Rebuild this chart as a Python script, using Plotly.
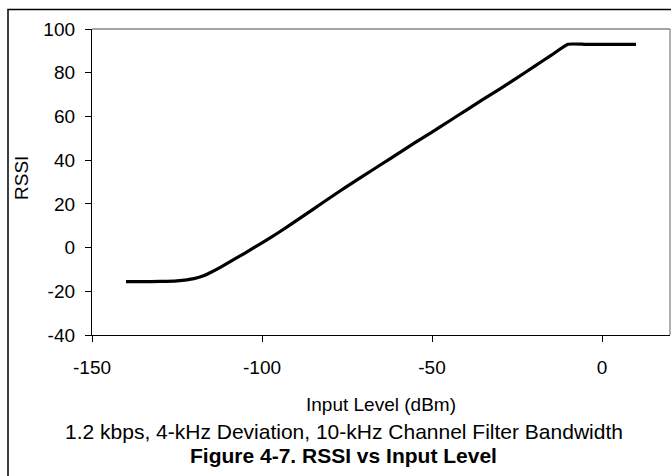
import plotly.graph_objects as go

input_level = [-140, -135, -130, -125, -120, -117, -115, -112, -110, -105, -100, -95, -90,
               -85, -80, -75, -70, -65, -60, -55, -50, -45, -40, -35, -30, -25, -20,
               -15, -10, -5, 0, 5, 10]
rssi = [-15.6, -15.6, -15.5, -15.2, -14.2, -12.8, -11.3, -8.8, -7.0, -2.5, 2.2, 7.0, 12.2,
        17.5, 22.8, 28.0, 33.0, 38.0, 43.0, 48.0, 52.8, 57.8, 62.8, 67.8, 72.6, 77.6, 82.8,
        87.9, 93.0, 93.0, 93.0, 93.0, 93.0]

x_ticks = [-150, -100, -50, 0]
x_tick_labels = ["-150", "-100", "-50", "0"]
y_ticks = [-40, -20, 0, 20, 40, 60, 80, 100]
y_tick_labels = ["-40", "-20", "0", "20", "40", "60", "80", "100"]

FONT = "Liberation Sans, Arial, sans-serif"

fig = go.Figure()
fig.add_trace(go.Scatter(x=input_level, y=rssi, mode="lines",
                         line=dict(color="black", width=3.2, shape="spline", smoothing=0.4),
                         showlegend=False, hoverinfo="skip"))

W, H = 671, 476
L, R, T, B = 92, 1, 29, 141
pw, ph = W - L - R, H - T - B

def px(xp):
    return (xp - L) / pw

def py(yp):
    return (H - B - yp) / ph

fig.update_layout(
    width=W, height=H,
    margin=dict(l=L, r=R, t=T, b=B),
    paper_bgcolor="white", plot_bgcolor="white",
    font=dict(family=FONT, size=19, color="black"),
    xaxis=dict(range=[-150, 20], tickvals=x_ticks, ticktext=x_tick_labels,
               showgrid=False, zeroline=False,
               showline=True, linecolor="black", linewidth=1.3,
               ticks="outside", ticklen=6, tickcolor="black", tickwidth=1.3,
               ticklabelstandoff=9, tickfont=dict(size=19, family=FONT)),
    yaxis=dict(range=[-40, 100], tickvals=y_ticks, ticktext=y_tick_labels,
               showgrid=False, zeroline=False,
               showline=True, linecolor="black", linewidth=1.3,
               ticks="outside", ticklen=6, tickcolor="black", tickwidth=1.3,
               ticklabelstandoff=6, tickfont=dict(size=19, family=FONT)),
    shapes=[
        dict(type="line", xref="paper", yref="paper", x0=0, x1=1, y0=1, y1=1,
             line=dict(color="#878787", width=1.3)),
        dict(type="line", xref="paper", yref="paper", x0=1, x1=1, y0=0, y1=1,
             line=dict(color="#878787", width=1.3)),
        dict(type="rect", xref="paper", yref="paper", x0=px(8), x1=px(700),
             y0=py(520), y1=py(9.5), line=dict(color="black", width=1.5)),
    ],
    annotations=[
        dict(text="RSSI", xref="paper", yref="paper", x=px(21), y=py(178),
             textangle=-90, showarrow=False, font=dict(size=19, family=FONT),
             xanchor="center", yanchor="middle"),
        dict(text="Input Level (dBm)", xref="paper", yref="paper", x=px(381), y=py(404),
             showarrow=False, font=dict(size=19, family=FONT),
             xanchor="center", yanchor="middle"),
        dict(text="1.2 kbps, 4-kHz Deviation, 10-kHz Channel Filter Bandwidth",
             xref="paper", yref="paper", x=px(343.5), y=py(431), showarrow=False,
             font=dict(size=21, family=FONT), xanchor="center", yanchor="middle"),
        dict(text="<b>Figure 4-7. RSSI vs Input Level</b>",
             xref="paper", yref="paper", x=px(343.5), y=py(455), showarrow=False,
             font=dict(size=21, family=FONT), xanchor="center", yanchor="middle"),
    ],
)

fig.write_html("out.html", config={"displayModeBar": False},
               post_script="document.body.style.margin='0';document.body.style.overflow='hidden';")
